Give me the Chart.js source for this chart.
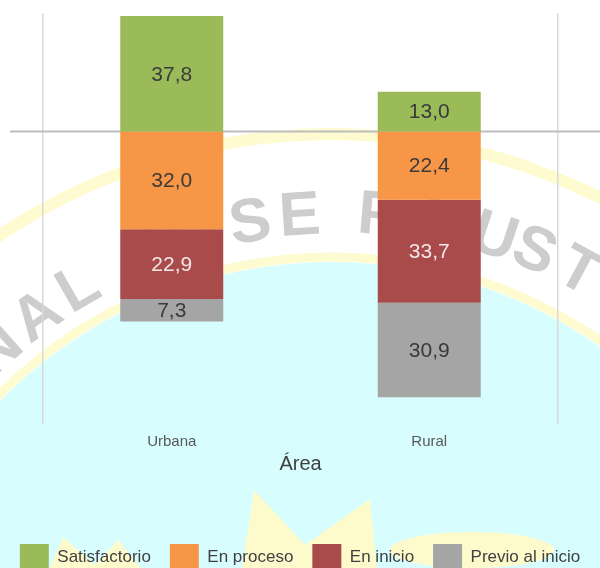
<!DOCTYPE html>
<html>
  <head>
    <title>Área</title>
    <style>
      html, body { margin: 0; padding: 0; overflow: hidden; background: #fff; }
    </style>
  </head>
  <body>
    <script src="https://cdn.jsdelivr.net/npm/chart.js@4.4.1/dist/chart.umd.min.js"></script>

    <canvas id="areaChart" width="600" height="580"></canvas>

    <script>
      // data
      const categories = ["Urbana", "Rural"];
      const satisfactorio = [37.8, 13.0];
      const enProceso = [32.0, 22.4];
      const enInicio = [22.9, 33.7];
      const previoAlInicio = [7.3, 30.9];

      const seriesNames = ["Satisfactorio", "En proceso", "En inicio", "Previo al inicio"];
      const seriesColors = ["#9bbb59", "#f79646", "#aa4b4b", "#a5a5a5"];
      const labelColors = ["#3a3a3a", "#3a3a3a", "#f3e6e6", "#3a3a3a"];

      const font = "'Liberation Sans', Arial, sans-serif";

      // faded logo behind the chart
      const watermark = {
        id: "watermark",
        beforeDraw(chart) {
          const ctx = chart.ctx;
          const cx = 332, cy = 728;
          ctx.save();
          ctx.fillStyle = "#ffffff";
          ctx.fillRect(0, 0, chart.width, chart.height);

          // outer ring
          ctx.strokeStyle = "#fdfbcf";
          ctx.lineWidth = 12;
          ctx.beginPath();
          ctx.arc(cx, cy, 594, 0, Math.PI * 2);
          ctx.stroke();

          // inner disc
          ctx.fillStyle = "#d8fdff";
          ctx.beginPath();
          ctx.arc(cx, cy, 466, 0, Math.PI * 2);
          ctx.fill();
          ctx.strokeStyle = "#fdfbcf";
          ctx.lineWidth = 9;
          ctx.beginPath();
          ctx.arc(cx, cy, 471, 0, Math.PI * 2);
          ctx.stroke();

          // text on the ring
          const letters = [["N", -41.5], ["A", -35.6], ["L", -30], ["J", -21], ["O", -15.8],
            ["S", -9.2], ["E", -3.6], ["F", 5], ["A", 11], ["U", 18.3], ["S", 23], ["T", 28.4], ["I", 33.5]];
          ctx.fillStyle = "#cdcdcd";
          ctx.font = "bold 62px " + font;
          ctx.textAlign = "center";
          ctx.textBaseline = "middle";
          letters.forEach(([ch, deg]) => {
            const a = deg * Math.PI / 180;
            const r = 512 + deg * 0.2;
            ctx.save();
            ctx.translate(cx + r * Math.sin(a), cy - r * Math.cos(a));
            ctx.rotate(a);
            ctx.fillText(ch, 0, 0);
            ctx.restore();
          });

          // yellow shapes at the bottom
          ctx.fillStyle = "#fdfbcb";
          ctx.beginPath();
          ctx.moveTo(45, 580); ctx.lineTo(63, 537); ctx.lineTo(95, 565);
          ctx.lineTo(118, 540); ctx.lineTo(150, 580); ctx.closePath();
          ctx.fill();
          ctx.beginPath();
          ctx.moveTo(240, 580); ctx.lineTo(254, 490); ctx.lineTo(305, 545);
          ctx.lineTo(370, 499); ctx.lineTo(378, 580); ctx.closePath();
          ctx.fill();
          ctx.beginPath();
          ctx.ellipse(472, 550, 82, 18, 0, 0, Math.PI * 2);
          ctx.fill();
          ctx.restore();
        }
      };

      // zero line that runs wider than the plot
      const zeroLine = {
        id: "zeroLine",
        beforeDatasetsDraw(chart) {
          const ctx = chart.ctx;
          const y = chart.scales.y.getPixelForValue(0);
          ctx.save();
          ctx.strokeStyle = "#bdbdbd";
          ctx.lineWidth = 2;
          ctx.beginPath();
          ctx.moveTo(10, y);
          ctx.lineTo(chart.width, y);
          ctx.stroke();
          ctx.restore();
        }
      };

      // numbers inside the bars
      const barLabels = {
        id: "barLabels",
        afterDatasetsDraw(chart) {
          const ctx = chart.ctx;
          ctx.save();
          ctx.font = "21px " + font;
          ctx.textAlign = "center";
          ctx.textBaseline = "middle";
          chart.data.datasets.forEach((ds, i) => {
            chart.getDatasetMeta(i).data.forEach((bar, j) => {
              const p = bar.getCenterPoint();
              ctx.fillStyle = labelColors[i];
              ctx.fillText(Math.abs(ds.data[j]).toFixed(1).replace(".", ","), p.x, p.y + 1);
            });
          });
          ctx.restore();
        }
      };

      const seriesValues = [satisfactorio, enProceso, enInicio, previoAlInicio];

      const datasets = seriesNames.map((name, i) => ({
        label: name,
        // satisfactorio goes up, the rest go down
        data: seriesValues[i].map(v => i === 0 ? v : -v),
        backgroundColor: seriesColors[i],
        borderWidth: 0,
        barPercentage: 0.4,
        categoryPercentage: 1
      }));

      // invisible side axes that only take up room
      const spacer = (w) => ({
        display: true,
        stacked: true,
        min: -95.8,
        max: 38.8,
        afterFit: (scale) => { scale.width = w; },
        ticks: { display: false },
        grid: { display: false },
        border: { display: false }
      });

      const ctx = document.getElementById("areaChart").getContext("2d");

      const chart = new Chart(ctx, {
        type: "bar",
        data: {
          labels: categories,
          datasets: datasets
        },
        plugins: [watermark, zeroLine, barLabels],
        options: {
          responsive: false,
          animation: false,
          layout: {
            padding: { top: 13, left: 0, right: 0, bottom: 0 }
          },
          plugins: {
            tooltip: { enabled: false },
            legend: {
              position: "bottom",
              labels: {
                boxWidth: 29,
                boxHeight: 26,
                padding: 19,
                color: "#404040",
                font: { family: font, size: 17 }
              }
            }
          },
          scales: {
            x: {
              stacked: true,
              afterFit: (scale) => { scale.height = 101; },
              grid: {
                color: (c) => c.index === 1 ? "rgba(0,0,0,0)" : "#d9d9d9",
                lineWidth: 1.5,
                drawTicks: false
              },
              border: { display: false },
              ticks: {
                padding: 9,
                color: "#595959",
                font: { family: font, size: 15 }
              },
              title: {
                display: true,
                text: "Área",
                color: "#404040",
                font: { family: font, size: 20 },
                padding: { top: 4, bottom: 49 }
              }
            },
            y: Object.assign(spacer(43), { position: "left" }),
            yRight: Object.assign(spacer(42), { position: "right" })
          }
        }
      });
    </script>
  </body>
</html>
